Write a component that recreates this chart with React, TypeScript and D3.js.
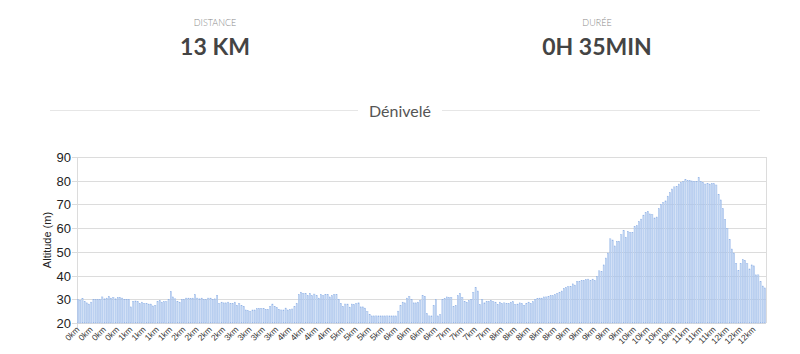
import React from "react";
import * as d3 from "d3";

// altitude (m), one bar per gps point
const altitudes: number[] = [
  30, 29.5, 30.3, 29, 28.5, 28, 28.8, 30, 29.8, 30, 30, 31, 30.2, 30.5, 31.2, 30.5, 30.8, 30.2, 30.8, 30.8, 30.5, 30, 30, 30,
  26.8,
  29.2, 29.3, 29, 28.2, 28.8, 28.3, 28.3, 28, 28, 27.2, 27.5, 29, 29.5, 28.8, 29, 29, 29.8,
  33.3,
  31, 30.2, 29.2, 28.8, 30, 30, 30.5, 30.5, 30.3, 30.5,
  32,
  30.5, 30.2, 30.5, 29.8, 29.8, 30.5, 30.5, 30, 30.2,
  31.7,
  28.2, 28.8, 28.5, 28.5, 28.8, 28.2, 28.2, 28.8, 27.5, 28.2, 27.5, 27,
  25.5, 25.2, 25, 25.5, 25.5, 26, 26.2, 26.2, 26.2, 25.8, 25.8, 27, 28, 27, 26.5, 25.8,
  25.5, 25.5, 26.3, 25.5, 25.7, 25.9, 27, 28.2,
  32,
  33, 32.5, 32.5, 31.5, 32.5, 31.5, 32.2, 31.5, 30.5, 32, 31.5, 32, 32, 31, 31.5, 32, 32, 30,
  28.3, 27, 28, 28, 26.7, 28, 27.8, 28.2, 28.5, 26.8, 26.8, 26.3, 24.8, 23.7,
  23, 23, 23, 23, 23, 23, 23, 23, 23, 23, 23, 23,
  25, 27.5, 28.8, 28.5, 30.5, 31.2, 29.8, 28.5, 28.5, 28.8, 29.5, 31.5, 31.3,
  24, 23, 23, 27.3, 30, 23, 23.5,
  30, 30.3, 31, 30.8, 30.8, 27, 27.5, 31.5, 32.5, 30.8, 29.2, 28.8, 29.5, 30,
  33, 35, 33.5,
  27.8, 30, 28.5, 29.2, 29.2, 29.5, 29, 28.8, 27.8, 28.8, 28.2, 28.5, 28.2, 28.2, 28.8, 29, 27.8, 28,
  28.5, 28.2, 27.5, 28.3, 28.8, 28.3, 29, 30, 30.3, 30.5, 30.5, 31, 31, 31.3, 31.5, 31.5, 32, 32.5,
  33, 33.5, 34.6, 35, 35.3, 35.5, 36.5, 36, 37.5, 37.5, 37.8, 38, 38.3, 38.5, 37.8, 38.5, 37.9, 39.6,
  42, 41.7, 44.5, 47.4, 49.5, 55.5,
  55, 52.5, 54.5, 54.5, 57.2, 59, 56.2, 58.6, 58.2, 58.2, 60.6, 61, 62.8, 63.8, 65.5, 66.5, 67.1, 66, 65.7, 64.3, 64.7,
  68.2, 70, 70.8, 71.5, 73.5,
  75, 76.5, 77.4, 77.6, 78.6, 79.3, 79.6, 80.4, 80, 80, 79.9, 79.7, 79.6, 81.3, 79.7, 79.3, 78.6, 78.9, 78.6, 78.9, 78.7, 78.2,
  74.3, 71.9, 68.2, 63.7, 59.9, 55.2, 51.2, 49.5, 45.2, 42.1,
  45, 46.7, 46.4, 45, 42.8, 44.5, 44.1, 40.3, 40.3, 37.4, 35.6, 34.8,
];

// labels shown on the x axis (one every 6 bars)
const tickLabels: string[] = [
  "0km", "0km", "0km", "0km", "1km", "1km", "1km", "1km",
  "2km", "2km", "2km", "2km", "3km", "3km", "3km", "3km",
  "4km", "4km", "4km", "4km", "5km", "5km", "5km", "5km",
  "6km", "6km", "6km", "6km", "7km", "7km", "7km", "7km",
  "8km", "8km", "8km", "8km", "8km", "9km", "9km", "9km", "9km", "9km",
  "10km", "10km", "10km", "10km", "11km", "11km", "11km",
  "12km", "12km", "12km",
];
const tickEvery = 6;

const yTicks: number[] = [20, 30, 40, 50, 60, 70, 80, 90];

const stats = [
  { label: "DISTANCE", value: "13 KM", cx: 215 },
  { label: "DURÉE", value: "0H 35MIN", cx: 597 },
];

const App: React.FC = () => {
  const width = 800;
  const height = 354;
  const marginLeft = 77;
  const marginRight = 34;
  const marginTop = 157;
  const marginBottom = 31;

  const x = d3
    .scaleBand<number>()
    .domain(altitudes.map((_, i) => i))
    .range([marginLeft, width - marginRight])
    .paddingInner(0.45)
    .paddingOuter(0.2);

  const y = d3
    .scaleLinear()
    .domain([20, 90])
    .range([height - marginBottom, marginTop]);

  const axisFont = "'Liberation Sans', Arial, sans-serif";
  const headFont = "Lato, 'Open Sans', sans-serif";

  return (
    <svg
      width={width}
      height={height}
      style={{ position: "absolute", left: 0, top: 0, display: "block", background: "#fff" }}
    >
      {/* header */}
      {stats.map((s) => (
        <g key={s.label}>
          <text
            x={s.cx}
            y={26}
            textAnchor="middle"
            fontFamily={headFont}
            fontSize={9}
            fontWeight={300}
            fill="#8a8a8a"
          >
            {s.label}
          </text>
          <text
            x={s.cx}
            y={55}
            textAnchor="middle"
            fontFamily={headFont}
            fontSize={23}
            fontWeight={700}
            fill="#444"
          >
            {s.value}
          </text>
        </g>
      ))}

      {/* section title */}
      <line x1={50} x2={358} y1={110.5} y2={110.5} stroke="#e6e6e6" />
      <line x1={442} x2={760} y1={110.5} y2={110.5} stroke="#e6e6e6" />
      <text
        x={400}
        y={117}
        textAnchor="middle"
        fontFamily={headFont}
        fontSize={16}
        fill="#555"
      >
        Dénivelé
      </text>

      {/* grid */}
      {yTicks.map((t) => (
        <g key={t}>
          <line
            x1={marginLeft - 5}
            x2={width - marginRight}
            y1={Math.round(y(t)) + 0.5}
            y2={Math.round(y(t)) + 0.5}
            stroke="#dcdcdc"
          />
          <text
            x={marginLeft - 6}
            y={y(t) + 5}
            textAnchor="end"
            fontFamily={axisFont}
            fontSize={13}
            fill="#222"
          >
            {t}
          </text>
        </g>
      ))}
      <line
        x1={marginLeft + 0.5}
        x2={marginLeft + 0.5}
        y1={marginTop}
        y2={height - marginBottom + 5}
        stroke="#dcdcdc"
      />
      <line
        x1={width - marginRight + 0.5}
        x2={width - marginRight + 0.5}
        y1={marginTop}
        y2={height - marginBottom}
        stroke="#dcdcdc"
      />

      {/* bars */}
      {altitudes.map((d, i) => (
        <rect
          key={i}
          x={x(i)}
          y={y(d)}
          width={x.bandwidth()}
          height={y(20) - y(d)}
          fill="#c6d9f3"
          stroke="#8fb1e6"
          strokeWidth={0.4}
        />
      ))}

      {/* x tick labels */}
      {tickLabels.map((lab, k) => {
        const i = k * tickEvery;
        const tx = (x(i) as number) + x.bandwidth() / 2 + 2;
        const ty = height - marginBottom + 7;
        return (
          <text
            key={k}
            transform={`translate(${tx},${ty}) rotate(-45)`}
            textAnchor="end"
            fontFamily={axisFont}
            fontSize={8.5}
            fill="#333"
          >
            {lab}
          </text>
        );
      })}

      {/* y title */}
      <text
        transform={`translate(51,${(y(20) + y(90)) / 2}) rotate(-90)`}
        textAnchor="middle"
        fontFamily={axisFont}
        fontSize={11}
        fill="#222"
      >
        Altitude (m)
      </text>
    </svg>
  );
};

export default App;
